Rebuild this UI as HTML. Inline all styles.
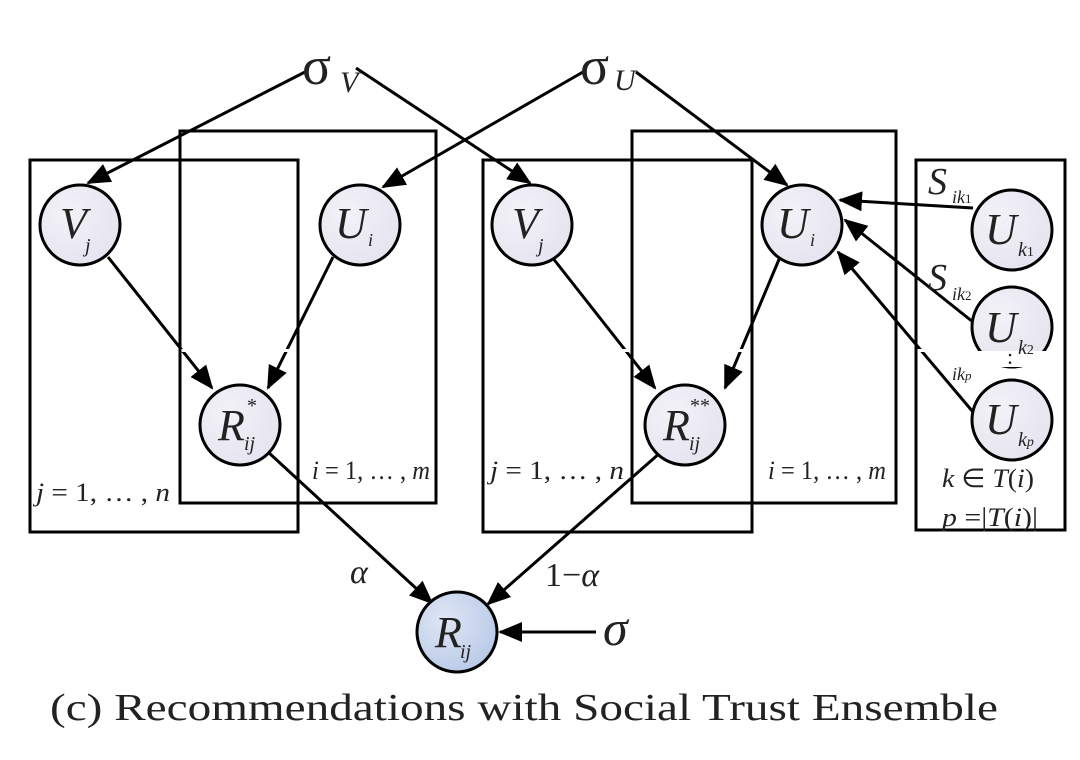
<!DOCTYPE html>
<html><head><meta charset="utf-8"><style>
html,body{margin:0;padding:0;background:#fff;}
svg{display:block;}
text{font-family:"Liberation Serif",serif;fill:#222;}
</style></head><body>
<svg width="1080" height="760" viewBox="0 0 1080 760" xmlns="http://www.w3.org/2000/svg">
<defs>
<radialGradient id="g1" cx="0.35" cy="0.35" r="0.8"><stop offset="0" stop-color="#f2f2f8"/><stop offset="1" stop-color="#e4e2ee"/></radialGradient>
<radialGradient id="g2" cx="0.35" cy="0.35" r="0.8"><stop offset="0" stop-color="#dfe6f5"/><stop offset="1" stop-color="#b4c6e6"/></radialGradient>
<marker id="a" markerWidth="24" markerHeight="20" refX="22" refY="10" orient="auto" markerUnits="userSpaceOnUse" viewBox="0 0 24 20"><path d="M0,0 L24,10 L0,20 z" fill="#000"/></marker>
</defs>
<g fill="none" stroke="#000" stroke-width="3">
<line x1="305" y1="72" x2="88" y2="183" marker-end="url(#a)"/>
<line x1="356" y1="68" x2="530" y2="183" marker-end="url(#a)"/>
<line x1="583" y1="72" x2="383" y2="187" marker-end="url(#a)"/>
<line x1="636" y1="72" x2="787" y2="185" marker-end="url(#a)"/>
<line x1="108" y1="257" x2="212" y2="388" marker-end="url(#a)"/>
<line x1="333" y1="257" x2="268" y2="388" marker-end="url(#a)"/>
<line x1="552" y1="257" x2="655" y2="388" marker-end="url(#a)"/>
<line x1="780" y1="257" x2="725" y2="388" marker-end="url(#a)"/>
<line x1="268" y1="452" x2="432" y2="603" marker-end="url(#a)"/>
<line x1="661" y1="452" x2="488" y2="604" marker-end="url(#a)"/>
<line x1="596" y1="632" x2="500" y2="632" marker-end="url(#a)"/>
<line x1="973" y1="208" x2="840" y2="200" marker-end="url(#a)"/>
<line x1="973" y1="322" x2="845" y2="220" marker-end="url(#a)"/>
<line x1="973" y1="412" x2="838" y2="252" marker-end="url(#a)"/>
</g>
<g stroke="#000" stroke-width="3" fill="url(#g1)">
<circle cx="80" cy="225" r="40"/>
<circle cx="360" cy="225" r="40"/>
<circle cx="240" cy="425" r="40"/>
<circle cx="532" cy="225" r="40"/>
<circle cx="802" cy="225" r="40"/>
<circle cx="685" cy="425" r="40"/>
<circle cx="1012" cy="230" r="40"/>
<circle cx="1012" cy="327" r="40"/>
<circle cx="1012" cy="420" r="40"/>
<circle cx="457" cy="632" r="40" fill="url(#g2)"/>
</g>
<g fill="#fff">
<rect x="160" y="349" width="150" height="3"/>
<rect x="610" y="349" width="150" height="3"/>
<rect x="890" y="349" width="50" height="3"/>
<rect x="960" y="351" width="100" height="16"/>
</g>
<g fill="none" stroke="#000" stroke-width="3">
<rect x="30" y="160" width="268" height="372"/>
<rect x="180" y="131" width="256" height="372"/>
<rect x="483" y="160" width="269" height="372"/>
<rect x="632" y="131" width="264" height="372"/>
<rect x="916" y="160" width="149" height="370"/>
</g>
<g font-size="40" font-style="italic">
<text x="302" y="84" font-style="normal" font-size="54">σ</text><text x="340" y="92" font-size="30" fill="#888">V</text>
<text x="580" y="84" font-style="normal" font-size="54">σ</text><text x="614" y="90" font-size="30" fill="#888">U</text>
<text x="60" y="238" font-size="44">V</text><text x="85" y="252" font-size="20">j</text>
<text x="335" y="238" font-size="44">U</text><text x="368" y="246" font-size="18">i</text>
<text x="218" y="440" font-size="44">R</text><text x="244" y="450" font-size="20">ij</text><text x="247" y="412" font-size="20" font-style="normal">*</text>
<text x="512" y="238" font-size="44">V</text><text x="538" y="252" font-size="20">j</text>
<text x="777" y="238" font-size="44">U</text><text x="810" y="246" font-size="18">i</text>
<text x="663" y="440" font-size="44">R</text><text x="689" y="450" font-size="20">ij</text><text x="690" y="412" font-size="20" font-style="normal">**</text>
<text x="985" y="244" font-size="44">U</text><text x="1018" y="256" font-size="20">k<tspan font-size="14" font-style="normal">1</tspan></text>
<text x="985" y="342" font-size="44">U</text><text x="1018" y="354" font-size="20">k<tspan font-size="14" font-style="normal">2</tspan></text>
<text x="985" y="434" font-size="44">U</text><text x="1018" y="446" font-size="20">k<tspan font-size="14">p</tspan></text>
<text x="435" y="647" font-size="44">R</text><text x="460" y="658" font-size="20">ij</text>
<text x="928" y="194" font-size="38">S</text><text x="952" y="203" font-size="18">ik<tspan font-size="13" font-style="normal">1</tspan></text>
<text x="928" y="290" font-size="38">S</text><text x="952" y="300" font-size="18">ik<tspan font-size="13" font-style="normal">2</tspan></text>
<text x="952" y="380" font-size="18">ik<tspan font-size="13">p</tspan></text>
<text x="1007" y="364" font-size="22" font-style="normal">:</text>
<text x="36" y="501" font-size="26" textLength="134" lengthAdjust="spacingAndGlyphs">j <tspan font-style="normal">= 1, … ,</tspan> n</text>
<text x="312" y="479" font-size="26" textLength="118" lengthAdjust="spacingAndGlyphs">i <tspan font-style="normal">= 1, … ,</tspan> m</text>
<text x="490" y="479" font-size="26" textLength="134" lengthAdjust="spacingAndGlyphs">j <tspan font-style="normal">= 1, … ,</tspan> n</text>
<text x="768" y="479" font-size="26" textLength="118" lengthAdjust="spacingAndGlyphs">i <tspan font-style="normal">= 1, … ,</tspan> m</text>
<text x="942" y="487" font-size="26" textLength="92" lengthAdjust="spacingAndGlyphs">k <tspan font-style="normal">∈</tspan> T<tspan font-style="normal">(</tspan>i<tspan font-style="normal">)</tspan></text>
<text x="942" y="526" font-size="26" textLength="96" lengthAdjust="spacingAndGlyphs">p <tspan font-style="normal">=|</tspan>T<tspan font-style="normal">(</tspan>i<tspan font-style="normal">)|</tspan></text>
<text x="350" y="583" font-size="34">α</text>
<text x="545" y="586" font-size="34"><tspan font-style="normal">1−</tspan>α</text>
<text x="603" y="645" font-size="50">σ</text>
</g>
<text x="50" y="720" font-size="38" textLength="948" lengthAdjust="spacingAndGlyphs">(c) Recommendations with Social Trust Ensemble</text>
</svg>
</body></html>
